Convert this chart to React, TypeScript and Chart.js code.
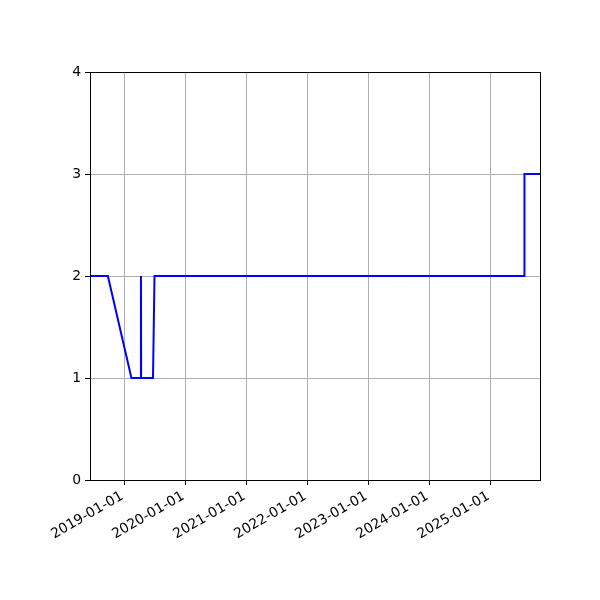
import React, { useEffect, useRef } from "react";
import { Chart, registerables } from "chart.js";

Chart.register(...registerables);

const dates = [
  "2018-06-10", "2018-09-25", "2019-02-13", "2019-04-10", "2019-04-11", "2019-04-12",
  "2019-06-22", "2019-07-01", "2025-07-22", "2025-07-23", "2025-10-24",
];
const values = [2, 2, 1, 1, 2, 1, 1, 2, 2, 3, 3];
const xTickDates = [
  "2019-01-01", "2020-01-01", "2021-01-01", "2022-01-01", "2023-01-01", "2024-01-01", "2025-01-01",
];
const yTicks = [0, 1, 2, 3, 4];

const ts = (d: string) => Date.parse(d + "T00:00:00Z");

const FONT = { family: "'DejaVu Sans', sans-serif", size: 13.9 };

const framePlugin = {
  id: "frame",
  afterDraw(chart: any) {
    const { ctx, chartArea } = chart;
    ctx.save();
    ctx.strokeStyle = "#000";
    ctx.lineWidth = 1;
    ctx.strokeRect(
      Math.round(chartArea.left) + 0.5,
      Math.round(chartArea.top) + 0.5,
      Math.round(chartArea.right - chartArea.left),
      Math.round(chartArea.bottom - chartArea.top)
    );
    ctx.restore();
  },
};

export default function App() {
  const ref = useRef<HTMLCanvasElement>(null);
  useEffect(() => {
    document.body.style.margin = "0";
    const data = dates.map((d, i) => ({ x: ts(d), y: values[i] }));
    const chart = new Chart(ref.current!, {
      type: "line",
      data: {
        datasets: [
          {
            data,
            borderColor: "#0000ff",
            borderWidth: 2,
            pointRadius: 0,
            tension: 0,
            fill: false,
          },
        ],
      },
      options: {
        animation: false,
        responsive: false,
        devicePixelRatio: 1,
        layout: { padding: { top: 72, right: 60, left: 0, bottom: 0 } },
        plugins: { legend: { display: false }, tooltip: { enabled: false } },
        scales: {
          x: {
            type: "linear",
            min: ts(dates[0]),
            max: ts(dates[dates.length - 1]),
            afterBuildTicks: (scale: any) => {
              scale.ticks = xTickDates.map((d) => ({ value: ts(d) }));
            },
            afterFit: (scale: any) => {
              scale.height = 120;
            },
            ticks: {
              autoSkip: false,
              minRotation: 30,
              maxRotation: 30,
              color: "#000",
              font: FONT,
              padding: 3,
              labelOffset: -2,
              callback: (v: any) => new Date(v).toISOString().slice(0, 10),
            },
            grid: { color: "#b0b0b0", lineWidth: 1, tickLength: 5, tickColor: "#000" },
            border: { display: true, color: "#000", width: 1 },
          },
          y: {
            type: "linear",
            min: 0,
            max: 4,
            afterBuildTicks: (scale: any) => {
              scale.ticks = yTicks.map((v) => ({ value: v }));
            },
            afterFit: (scale: any) => {
              scale.width = 90;
            },
            ticks: { color: "#000", font: FONT, padding: 4, callback: (v: any) => String(v) },
            grid: { color: "#b0b0b0", lineWidth: 1, tickLength: 5, tickColor: "#000" },
            border: { display: true, color: "#000", width: 1 },
          },
        },
      },
      plugins: [framePlugin],
    });
    return () => chart.destroy();
  }, []);
  return (
    <div style={{ width: 600, height: 600, background: "#fff" }}>
      <canvas ref={ref} width={600} height={600} />
    </div>
  );
}
